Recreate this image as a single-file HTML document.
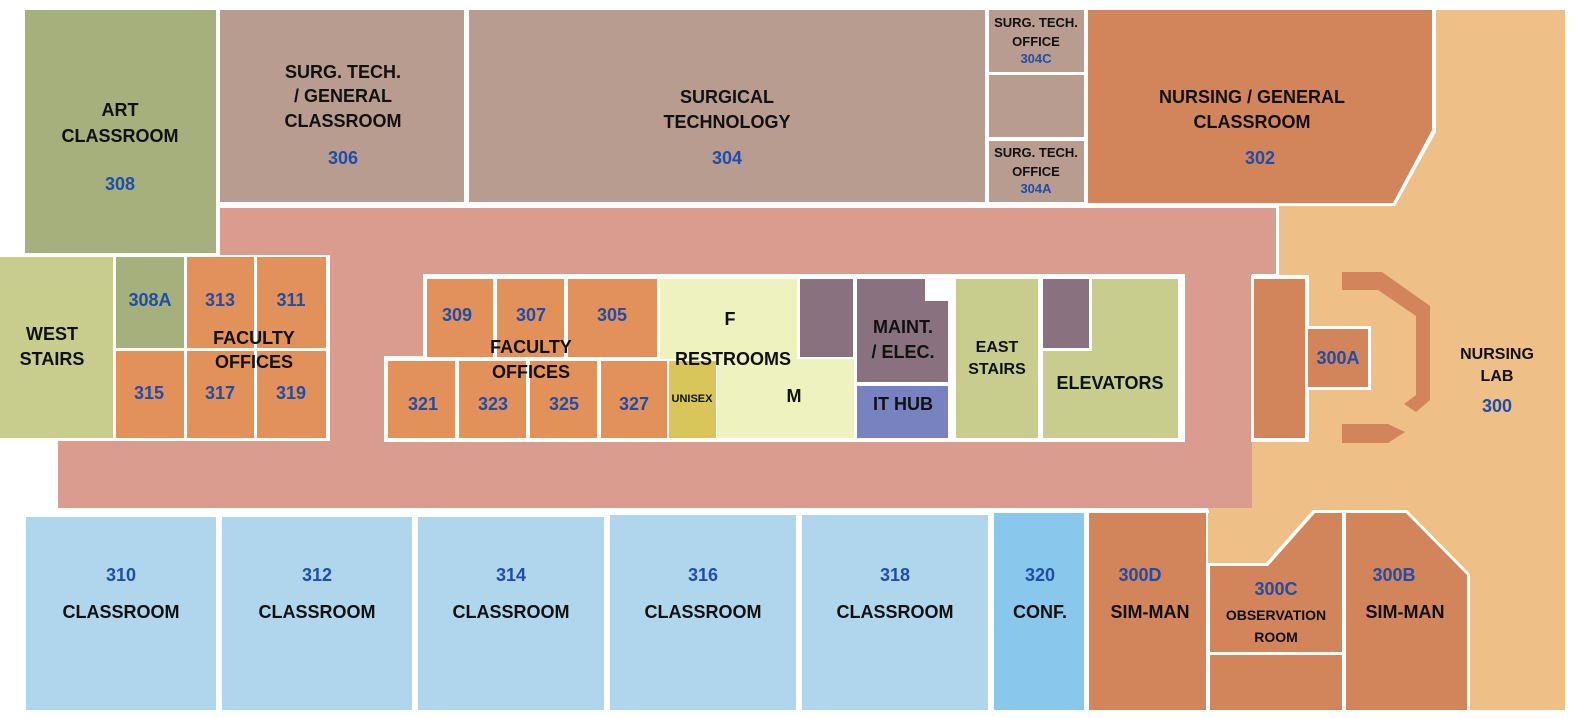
<!DOCTYPE html>
<html><head><meta charset="utf-8"><style>
body{margin:0;background:#fff}
svg{display:block}
text{font-family:"Liberation Sans",sans-serif;font-weight:bold;text-anchor:middle}
.b{fill:#111;font-size:18px}
.n{fill:#1F4EAA;font-size:18px}
.s{font-size:13px}
</style></head><body>
<svg width="1578" height="718" viewBox="0 0 1578 718">
<rect width="1578" height="718" fill="#fff"/>
<!-- nursing lab tan -->
<polygon points="1278,10 1565,10 1565,710 1208,710 1208,508 1252,508 1252,276 1278,276" fill="#EEBF87"/>
<!-- corridor -->
<rect x="220" y="208" width="1056" height="66" fill="#DA9C8F"/>
<rect x="58" y="255" width="1194" height="253" fill="#DA9C8F"/>
<rect x="1276" y="205" width="3" height="72" fill="#fff"/>
<!-- top row -->
<rect x="25" y="10" width="191" height="243" fill="#A5B07C"/>
<rect x="220" y="10" width="244" height="192" fill="#B79C8F"/>
<rect x="469" y="10" width="516" height="192" fill="#B79C8F"/>
<rect x="989" y="10" width="95" height="62" fill="#B79C8F"/>
<rect x="989" y="75" width="95" height="62" fill="#B79C8F"/>
<rect x="989" y="141" width="95" height="61" fill="#B79C8F"/>
<polygon points="1086,8 1436,8 1436,132 1395,206 1086,206" fill="#fff"/>
<polygon points="1088,10 1432,10 1432,130 1393,203 1088,203" fill="#D2845A"/>
<!-- west block -->
<rect x="0" y="255" width="330" height="186" fill="#fff"/>
<rect x="0" y="257" width="113" height="181" fill="#C8CD8E"/>
<rect x="116" y="257" width="68" height="91" fill="#A5B07C"/>
<rect x="187" y="257" width="67" height="91" fill="#E3915A"/>
<rect x="257" y="257" width="69" height="91" fill="#E3915A"/>
<rect x="116" y="351" width="68" height="87" fill="#E3915A"/>
<rect x="187" y="351" width="67" height="87" fill="#E3915A"/>
<rect x="257" y="351" width="69" height="87" fill="#E3915A"/>
<!-- center block -->
<rect x="423" y="274" width="762" height="168" fill="#fff"/>
<rect x="384" y="356" width="60" height="86" fill="#fff"/>
<rect x="427" y="279" width="66" height="78" fill="#E3915A"/>
<rect x="497" y="279" width="67" height="78" fill="#E3915A"/>
<rect x="568" y="279" width="89" height="78" fill="#E3915A"/>
<rect x="388" y="361" width="67" height="77" fill="#E3915A"/>
<rect x="459" y="361" width="67" height="77" fill="#E3915A"/>
<rect x="530" y="361" width="67" height="77" fill="#E3915A"/>
<rect x="601" y="361" width="66" height="77" fill="#E3915A"/>
<rect x="660" y="279" width="137" height="80" fill="#EEF2BE"/>
<rect x="717" y="359" width="137" height="79" fill="#EEF2BE"/>
<rect x="669" y="361" width="47" height="77" fill="#D9C65A"/>
<rect x="800" y="279" width="53" height="78" fill="#8A7180"/>
<polygon points="857,279 925,279 925,301 948,301 948,382 857,382" fill="#8A7180"/>
<rect x="857" y="386" width="91" height="52" fill="#7882C1"/>
<rect x="956" y="279" width="82" height="159" fill="#C8CD8E"/>
<rect x="1043" y="279" width="135" height="159" fill="#C8CD8E"/>
<rect x="1043" y="279" width="46" height="69" fill="#8A7180"/>
<rect x="1089" y="279" width="3" height="69" fill="#fff"/>
<rect x="1043" y="348" width="49" height="3" fill="#fff"/>
<!-- right nursing -->
<rect x="1251" y="275" width="58" height="167" fill="#fff"/>
<rect x="1254" y="279" width="51" height="159" fill="#D2845A"/>
<rect x="1305" y="326" width="66" height="64" fill="#fff"/>
<rect x="1308" y="329" width="60" height="58" fill="#D2845A"/>
<polygon points="1342,272 1382,272 1430,306 1430,400 1416,412 1404,404 1416,395 1416,316 1378,290 1342,290" fill="#D2845A"/>
<polygon points="1342,424 1388,424 1405,432 1388,443 1342,443" fill="#D2845A"/>
<!-- bottom -->
<rect x="26" y="517" width="190" height="193" fill="#B0D6EE"/>
<rect x="222" y="517" width="190" height="193" fill="#B0D6EE"/>
<rect x="418" y="517" width="186" height="193" fill="#B0D6EE"/>
<rect x="610" y="515" width="186" height="195" fill="#B0D6EE"/>
<rect x="802" y="515" width="186" height="195" fill="#B0D6EE"/>
<rect x="994" y="513" width="90" height="197" fill="#89C7EC"/>
<rect x="1087" y="510" width="122" height="3" fill="#fff"/>
<rect x="1089" y="513" width="117" height="197" fill="#D2845A"/>
<polygon points="1207,563 1266,563 1313,510 1345,510 1345,710 1207,710" fill="#fff"/>
<polygon points="1210,566 1268,566 1315,513 1342,513 1342,652 1210,652" fill="#D2845A"/>
<rect x="1210" y="655" width="132" height="55" fill="#D2845A"/>
<polygon points="1344,510 1407,510 1470,574 1470,710 1344,710" fill="#fff"/>
<polygon points="1346,513 1406,513 1467,575 1467,710 1346,710" fill="#D2845A"/>
<!-- labels -->
<text class="b" x="120" y="116">ART</text><text class="b" x="120" y="142">CLASSROOM</text><text class="n" x="120" y="190">308</text>
<text class="b" x="343" y="78">SURG. TECH.</text><text class="b" x="343" y="102">/ GENERAL</text><text class="b" x="343" y="127">CLASSROOM</text><text class="n" x="343" y="164">306</text>
<text class="b" x="727" y="103">SURGICAL</text><text class="b" x="727" y="128">TECHNOLOGY</text><text class="n" x="727" y="164">304</text>
<text class="b s" x="1036" y="27">SURG. TECH.</text><text class="b s" x="1036" y="46">OFFICE</text><text class="n s" x="1036" y="63">304C</text>
<text class="b s" x="1036" y="157">SURG. TECH.</text><text class="b s" x="1036" y="176">OFFICE</text><text class="n s" x="1036" y="193">304A</text>
<text class="b" x="1252" y="103">NURSING / GENERAL</text><text class="b" x="1252" y="128">CLASSROOM</text><text class="n" x="1260" y="164">302</text>
<text class="b" x="52" y="340">WEST</text><text class="b" x="52" y="365">STAIRS</text>
<text class="n" x="150" y="306">308A</text><text class="n" x="220" y="306">313</text><text class="n" x="291" y="306">311</text>
<text class="b" x="254" y="344">FACULTY</text><text class="b" x="254" y="368">OFFICES</text>
<text class="n" x="149" y="399">315</text><text class="n" x="220" y="399">317</text><text class="n" x="291" y="399">319</text>
<text class="n" x="457" y="321">309</text><text class="n" x="531" y="321">307</text><text class="n" x="612" y="321">305</text>
<text class="b" x="531" y="353">FACULTY</text><text class="b" x="531" y="378">OFFICES</text>
<text class="n" x="423" y="410">321</text><text class="n" x="493" y="410">323</text><text class="n" x="564" y="410">325</text><text class="n" x="634" y="410">327</text>
<text class="b" x="730" y="325">F</text><text class="b" x="733" y="365">RESTROOMS</text><text class="b" x="794" y="402">M</text>
<text class="b" x="692" y="402" style="font-size:11px">UNISEX</text>
<text class="b" x="903" y="333">MAINT.</text><text class="b" x="903" y="358">/ ELEC.</text>
<text class="b" x="903" y="410">IT HUB</text>
<text class="b" x="997" y="352" style="font-size:16px">EAST</text><text class="b" x="997" y="374" style="font-size:16px">STAIRS</text>
<text class="b" x="1110" y="389">ELEVATORS</text>
<text class="n" x="1338" y="364">300A</text>
<text class="b" x="1497" y="359" style="font-size:16px">NURSING</text><text class="b" x="1497" y="381" style="font-size:16px">LAB</text><text class="n" x="1497" y="412">300</text>
<text class="n" x="121" y="581">310</text><text class="b" x="121" y="618">CLASSROOM</text>
<text class="n" x="317" y="581">312</text><text class="b" x="317" y="618">CLASSROOM</text>
<text class="n" x="511" y="581">314</text><text class="b" x="511" y="618">CLASSROOM</text>
<text class="n" x="703" y="581">316</text><text class="b" x="703" y="618">CLASSROOM</text>
<text class="n" x="895" y="581">318</text><text class="b" x="895" y="618">CLASSROOM</text>
<text class="n" x="1040" y="581">320</text><text class="b" x="1040" y="618">CONF.</text>
<text class="n" x="1140" y="581">300D</text><text class="b" x="1150" y="618">SIM-MAN</text>
<text class="n" x="1276" y="595">300C</text><text class="b" x="1276" y="620" style="font-size:14px">OBSERVATION</text><text class="b" x="1276" y="642" style="font-size:14px">ROOM</text>
<text class="n" x="1394" y="581">300B</text><text class="b" x="1405" y="618">SIM-MAN</text>
</svg>
</body></html>
